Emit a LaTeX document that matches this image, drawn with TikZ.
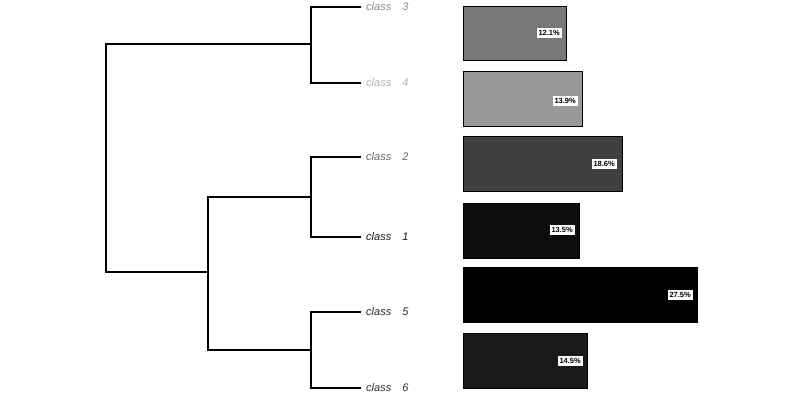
\documentclass[tikz,border=0pt]{standalone}
\usepackage{fontspec}
\setmainfont{Liberation Sans}
\begin{document}
\begin{tikzpicture}[x=1pt,y=-1pt,
  br/.style={line width=1.2pt,line cap=rect},
  lab/.style={anchor=west,font=\itshape\fontsize{11}{12}\selectfont,inner sep=0pt},
  bar/.style={draw=black,line width=1pt},
  pct/.style={fill=white,font=\bfseries\fontsize{7.5}{8}\selectfont,inner sep=2pt,anchor=east}]
\useasboundingbox[fill=white] (0,0) rectangle (800,417);
% leaves
\coordinate (l3) at (360,7);
\coordinate (l4) at (360,83);
\coordinate (l2) at (360,157);
\coordinate (l1) at (360,237);
\coordinate (l5) at (360,312);
\coordinate (l6) at (360,388);
\draw[br] (l3) -| (311,83) -- (l4);
\draw[br] (l2) -| (311,237) -- (l1);
\draw[br] (l5) -| (311,388) -- (l6);
\draw[br] (311,197) -| (208,350) -- (311,350);
\draw[br] (311,44) -| (106,272) -- (208,272);
\node[lab,text=black!45] (c3) at (366,7) {class\quad 3};
\node[lab,text=black!30] (c4) at (366,83) {class\quad 4};
\node[lab,text=black!60] (c2) at (366,157) {class\quad 2};
\node[lab,text=black!90] (c1) at (366,237) {class\quad 1};
\node[lab,text=black!85] (c5) at (366,312) {class\quad 5};
\node[lab,text=black!80] (c6) at (366,388) {class\quad 6};
% bars
\draw[bar,fill=black!53] (463,7) rectangle (566,61);
\node[pct] (p3) at (562,33) {12.1\%};
\draw[bar,fill=black!40] (463,72) rectangle (582,127);
\node[pct] (p4) at (578,101) {13.9\%};
\draw[bar,fill=black!75] (463,137) rectangle (622,191);
\node[pct] (p2) at (617,164) {18.6\%};
\draw[bar,fill=black!95] (463,203) rectangle (579,258);
\node[pct] (p1) at (575,230) {13.5\%};
\draw[bar,fill=black] (463,267) rectangle (697,322);
\node[pct] (p5) at (693,295) {27.5\%};
\draw[bar,fill=black!90] (463,333) rectangle (587,388);
\node[pct] (p6) at (583,361) {14.5\%};
\end{tikzpicture}
\end{document}
